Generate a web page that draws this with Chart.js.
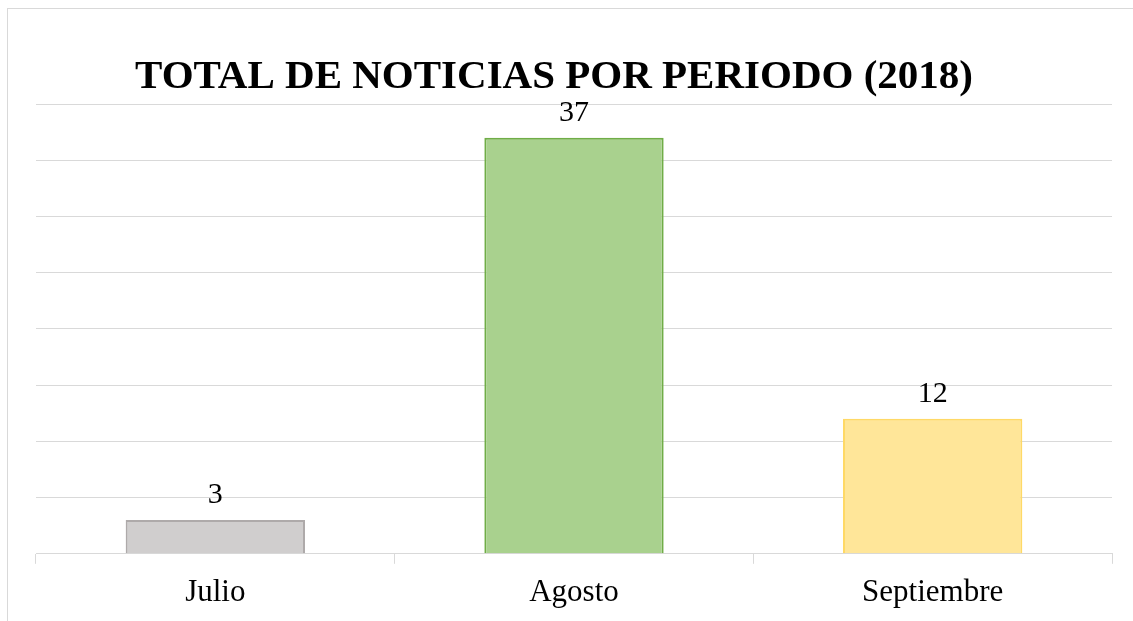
<!DOCTYPE html>
<html>
<head>
<meta charset="utf-8">
<script src="https://cdn.jsdelivr.net/npm/chart.js@4"></script>
<style>
  html, body { margin: 0; padding: 0; background: #ffffff; overflow: hidden; }
  #wrap { position: absolute; left: 0; top: 0; width: 1133px; height: 621px; }
</style>
</head>
<body>
<div id="wrap"><canvas id="newsChart"></canvas></div>
<script>
// Noticias por mes (2018)
const chartTitle = 'TOTAL DE NOTICIAS POR PERIODO (2018)';
const categories = ['Julio', 'Agosto', 'Septiembre'];
const newsCounts = [3, 37, 12];
const barFills = ['#d0cece', '#a9d18e', '#ffe699'];
const barBorders = ['#aeaaaa', '#70ad47', '#ffd966'];
const yTicks = [0, 5, 10, 15, 20, 25, 30, 35, 40];

const gridColor = '#d9d9d9';
const serif = "'Liberation Serif', 'Times New Roman', serif";

// light frame round the chart (cropped at right/bottom like the source) and the title,
// which sits centred on the frame rather than on the plot
const frameAndTitle = {
    id: 'frameAndTitle',
    beforeDraw(chart) {
        const ctx = chart.ctx;
        ctx.save();
        ctx.strokeStyle = gridColor;
        ctx.lineWidth = 1;
        ctx.strokeRect(7.5, 8.5, 1200, 700);
        ctx.font = 'bold 41px ' + serif;
        ctx.fillStyle = '#000000';
        ctx.textAlign = 'center';
        ctx.textBaseline = 'middle';
        ctx.fillText(chartTitle, 554, 77);
        ctx.restore();
    }
};

// value labels above each bar
const valueLabels = {
    id: 'valueLabels',
    afterDatasetsDraw(chart) {
        const ctx = chart.ctx;
        const meta = chart.getDatasetMeta(0);
        ctx.save();
        ctx.font = '30px ' + serif;
        ctx.fillStyle = '#000000';
        ctx.textAlign = 'center';
        ctx.textBaseline = 'bottom';
        meta.data.forEach((bar, i) => {
            ctx.fillText(String(newsCounts[i]), bar.x, bar.y - 10);
        });
        ctx.restore();
    }
};

new Chart(document.getElementById('newsChart'), {
    type: 'bar',
    data: {
        labels: categories,
        datasets: [{
            data: newsCounts,
            backgroundColor: barFills,
            borderColor: barBorders,
            borderWidth: 2,
            barPercentage: 0.5,
            categoryPercentage: 1
        }]
    },
    options: {
        responsive: true,
        maintainAspectRatio: false,
        animation: false,
        layout: { padding: { left: 36, right: 21, top: 104, bottom: 0 } },
        plugins: {
            legend: { display: false },
            tooltip: { enabled: false },
            title: { display: false }
        },
        scales: {
            x: {
                grid: {
                    offset: true,
                    drawOnChartArea: false,
                    tickLength: 10,
                    color: gridColor
                },
                border: { color: gridColor, width: 1 },
                ticks: {
                    color: '#000000',
                    padding: 10,
                    font: { family: serif, size: 31 }
                }
            },
            y: {
                min: 0,
                max: 40,
                afterBuildTicks: axis => { axis.ticks = yTicks.map(v => ({ value: v })); },
                ticks: { display: false },
                grid: { color: gridColor, drawTicks: false },
                border: { display: false }
            }
        }
    },
    plugins: [frameAndTitle, valueLabels]
});
</script>
</body>
</html>
